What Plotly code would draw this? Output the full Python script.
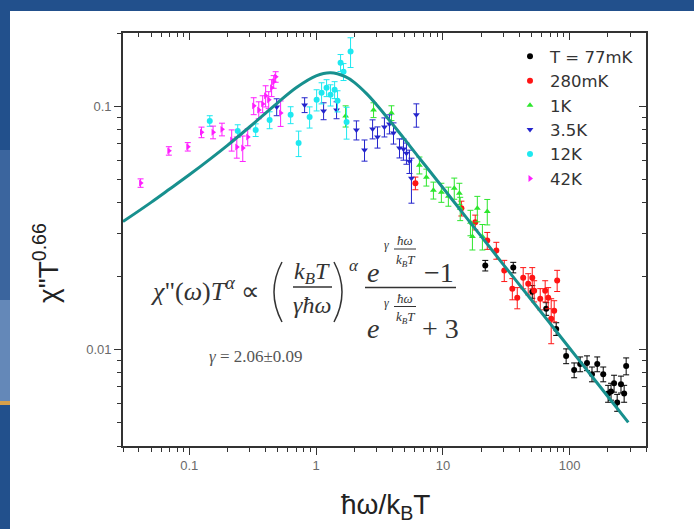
import math
import plotly.graph_objects as go

# ---------------- data ----------------
black_x = [21.6, 35.9, 50.7, 65.3, 78.3, 93.8, 108.5, 121, 137, 150, 165, 184, 201, 212, 224, 237, 254, 269, 279]
black_y = [0.0221, 0.0217, 0.01724, 0.01467, 0.01213, 0.00938, 0.00821, 0.00869, 0.00878, 0.0079,
           0.00869, 0.0079, 0.00658, 0.00671, 0.00724, 0.00604, 0.00718, 0.00658, 0.00853]
black_err = [0.05, 0.05, 0.06, 0.06, 0.06, 0.07, 0.07, 0.07, 0.07, 0.07, 0.07, 0.07, 0.08, 0.08, 0.08, 0.08, 0.08, 0.08, 0.08]

red_x = [6.07, 14.0, 18.0, 22.4, 26.4, 30.5, 35.3, 38.6, 43.0, 47.1, 50.7, 52.5, 58.6, 64.1, 67.7, 71.5, 75.5, 79.7]
red_y = [0.0482, 0.0380, 0.0333, 0.0280, 0.0255, 0.0211, 0.01775, 0.0163, 0.0197, 0.0186, 0.0197, 0.0174,
         0.01614, 0.0174, 0.0163, 0.01334, 0.0144, 0.0192]
red_err = [0.06, 0.07, 0.07, 0.08, 0.08, 0.10, 0.10, 0.10, 0.10, 0.10, 0.10, 0.10, 0.10, 0.10, 0.10, 0.21, 0.10, 0.10]

green_x = [1.71, 2.84, 3.93, 6.53, 7.41, 8.42, 9.73, 11.05, 12.3, 13.5, 13.7, 16.5, 18.7, 22.4, 17.1, 20.5]
green_y = [0.0912, 0.0965, 0.0938, 0.0572, 0.0510, 0.0451, 0.0442, 0.0426, 0.0460, 0.0438, 0.0380, 0.0333,
           0.0380, 0.0369, 0.0291, 0.0291]
green_err = [0.10, 0.07, 0.07, 0.08, 0.08, 0.08, 0.09, 0.09, 0.10, 0.10, 0.11, 0.12, 0.12, 0.12, 0.12, 0.12]

blue_x = [0.489, 0.812, 1.146, 1.45, 2.08, 2.41, 2.79, 3.05, 3.46, 3.79, 4.08, 4.55, 4.89, 5.16, 5.45, 5.65, 6.18]
blue_y = [0.0993, 0.1012, 0.0956, 0.0965, 0.0798, 0.066, 0.0806, 0.0747, 0.0821, 0.0845, 0.0776, 0.0673,
          0.0666, 0.0641, 0.0594, 0.0505, 0.0921]
blue_err = [0.08, 0.07, 0.08, 0.08, 0.09, 0.10, 0.09, 0.10, 0.09, 0.09, 0.10, 0.09, 0.10, 0.10, 0.11, 0.21, 0.11]

cyan_x = [0.145, 0.241, 0.334, 0.430, 0.630, 0.728, 0.889, 1.01, 1.105, 1.21, 1.30, 1.40, 1.476, 1.56, 1.646, 1.87, 1.74]
cyan_y = [0.0870, 0.0791, 0.0798, 0.0878, 0.0921, 0.0705, 0.0903, 0.1062, 0.1135, 0.119, 0.1113, 0.1168,
          0.1052, 0.151, 0.1386, 0.1677, 0.0861]
cyan_err = [0.05, 0.06, 0.06, 0.08, 0.08, 0.12, 0.10, 0.10, 0.10, 0.08, 0.10, 0.08, 0.10, 0.08, 0.08, 0.14, 0.15]

magenta_x = [0.0413, 0.069, 0.0973, 0.1248, 0.154, 0.181, 0.216, 0.237, 0.264, 0.289, 0.322, 0.353, 0.379,
             0.400, 0.423, 0.446, 0.463, 0.480, 0.525]
magenta_y = [0.0483, 0.0655, 0.0681, 0.0781, 0.0781, 0.0803, 0.0726, 0.0679, 0.0673, 0.0747, 0.1003, 0.0965,
             0.1022, 0.1103, 0.1062, 0.119, 0.126, 0.132, 0.0938]
magenta_err = [0.04, 0.04, 0.04, 0.05, 0.06, 0.06, 0.10, 0.10, 0.12, 0.08, 0.08, 0.08, 0.08, 0.10, 0.08, 0.08, 0.06, 0.05, 0.12]

# fitted curve
fit_x = [0.03, 0.05, 0.07, 0.1, 0.15, 0.2, 0.3, 0.4, 0.5, 0.7, 1.0, 1.3, 1.7, 2.0, 2.5, 3, 4, 5, 7, 10,
         15, 20, 30, 50, 70, 100, 150, 200, 290]
fit_y = [0.0335, 0.0402, 0.0456, 0.0522, 0.0613, 0.0690, 0.0823, 0.0936, 0.1035, 0.1193, 0.1332, 0.1371,
         0.1322, 0.1253, 0.1126, 0.1014, 0.0845, 0.0730, 0.0584, 0.0462, 0.0353, 0.0292, 0.0223, 0.01595,
         0.01278, 0.0101, 0.00773, 0.00639, 0.0050]

series_names = ["T = 77mK", "280mK", "1K", "3.5K", "12K", "42K"]

x_major = [0.1, 1, 10, 100]
x_labels = ["0.1", "1", "10", "100"]
y_major = [0.01, 0.1]
y_labels = ["0.01", "0.1"]
x_range = [0.03, 400]
y_range = [0.004, 0.2]

x_minor = [m * 10 ** d for d in range(-2, 3) for m in range(2, 10) if 0.03 <= m * 10 ** d <= 400]
y_minor = [m * 10 ** d for d in range(-3, 0) for m in range(2, 10) if 0.004 <= m * 10 ** d <= 0.2]

# ---------------- figure ----------------
W, H = 694, 529
L, R, T, B = 123, 48, 33, 83
PW, PH = W - L - R, H - T - B


def px(x):
    return (x - L) / PW


def py(y):
    return (H - B - y) / PH


styles = [
    ("#000000", "circle"),
    ("#ff1414", "circle"),
    ("#2ee62e", "triangle-up"),
    ("#2424cc", "triangle-down"),
    ("#1ee8f0", "circle"),
    ("#ff1eff", "triangle-right"),
]
data = [
    (black_x, black_y, black_err),
    (red_x, red_y, red_err),
    (green_x, green_y, green_err),
    (blue_x, blue_y, blue_err),
    (cyan_x, cyan_y, cyan_err),
    (magenta_x, magenta_y, magenta_err),
]

fig = go.Figure()
for name, (xs, ys, es), (col, sym) in zip(series_names, data, styles):
    fig.add_trace(go.Scatter(
        x=xs, y=ys, mode="markers", name=name,
        marker=dict(color=col, symbol=sym, size=6, line=dict(width=0)),
        error_y=dict(type="data", array=[y * e for y, e in zip(ys, es)], color=col, thickness=1, width=3),
    ))

fig.add_trace(go.Scatter(
    x=fit_x, y=fit_y, mode="lines", xaxis="x2", yaxis="y2", showlegend=False,
    line=dict(color="#17908e", width=3, shape="spline"),
))

xr = [math.log10(v) for v in x_range]
yr = [math.log10(v) for v in y_range]
axcol = "#333333"
tickfont = dict(family="Arial", size=13, color="#6a6a6a")

common = dict(type="log", showgrid=False, zeroline=False, showline=True, linecolor=axcol, linewidth=1.6,
              tickcolor=axcol, tickwidth=1.4)

fig.update_layout(
    width=W, height=H,
    margin=dict(l=L, r=R, t=T, b=B),
    paper_bgcolor="#22508c",
    plot_bgcolor="white",
    showlegend=True,
    xaxis=dict(**common, range=xr, tickvals=x_major, ticktext=x_labels, ticks="outside", ticklen=7,
               tickfont=tickfont,
               minor=dict(tickvals=x_minor, ticks="outside", ticklen=4, tickwidth=1.2, tickcolor=axcol)),
    yaxis=dict(**common, range=yr, tickvals=y_major, ticktext=y_labels, ticks="outside", ticklen=7,
               tickfont=tickfont,
               minor=dict(tickvals=y_minor, ticks="outside", ticklen=4, tickwidth=1.2, tickcolor=axcol)),
    xaxis2=dict(**common, range=xr, overlaying="x", side="top", anchor="y2", tickvals=x_major,
                ticks="inside", ticklen=7, showticklabels=False,
                minor=dict(tickvals=x_minor, ticks="inside", ticklen=4, tickwidth=1.2, tickcolor=axcol)),
    yaxis2=dict(**common, range=yr, overlaying="y", side="right", anchor="x2", tickvals=y_major,
                ticks="inside", ticklen=7, showticklabels=False,
                minor=dict(tickvals=y_minor, ticks="inside", ticklen=4, tickwidth=1.2, tickcolor=axcol)),
    legend=dict(x=px(510), y=py(39), xanchor="left", yanchor="top", bgcolor="rgba(0,0,0,0)",
                font=dict(family="DejaVu Sans", size=16.5, color="#333333"), itemwidth=30, tracegroupgap=0),
)

shapes = [
    # white slide area over the blue frame
    dict(type="rect", xref="paper", yref="paper", x0=px(10), x1=px(W + 5), y0=py(H + 5), y1=py(11),
         fillcolor="white", line=dict(width=0), layer="below"),
    # lighter glow on the left strip
    dict(type="rect", xref="paper", yref="paper", x0=px(-2), x1=px(10), y0=py(300), y1=py(150),
         fillcolor="#3b659e", line=dict(width=0), layer="below"),
    dict(type="rect", xref="paper", yref="paper", x0=px(-2), x1=px(10), y0=py(401), y1=py(300),
         fillcolor="#6488b8", line=dict(width=0), layer="below"),
    dict(type="rect", xref="paper", yref="paper", x0=px(-2), x1=px(10), y0=py(405), y1=py(401),
         fillcolor="#d7a04a", line=dict(width=0), layer="below"),
]

serif = "Liberation Serif, Times New Roman, serif"
fcol = "#333333"


def line_shape(x0, x1, y, w=1.3):
    return dict(type="line", xref="paper", yref="paper", x0=px(x0), x1=px(x1), y0=py(y), y1=py(y),
                line=dict(color=fcol, width=w))


def paren(xe, xc, y0, y1):
    ym = (y0 + y1) / 2
    return dict(type="path", xref="paper", yref="paper",
                path=f"M {px(xe)} {py(y0)} Q {px(xc)} {py(ym)} {px(xe)} {py(y1)}",
                line=dict(color=fcol, width=1.5))


shapes += [
    paren(282, 266, 262, 322),
    paren(334, 350, 262, 322),
    line_shape(293, 332, 287),
    line_shape(365, 456, 287.5),
    line_shape(394, 416, 249, 1),
    line_shape(394, 416, 306.5, 1),
]
fig.update_layout(shapes=shapes)

ann = []


def txt(s, x, y, size, xanchor="center", color=fcol, family=serif, angle=0):
    ann.append(dict(text=s, x=px(x), y=py(y), xref="paper", yref="paper", xanchor=xanchor, yanchor="middle",
                    showarrow=False, textangle=angle, font=dict(family=family, size=size, color=color)))


txt('<i>χ</i>"(<i>ω</i>)<i>T</i><sup><i>α</i></sup> ∝', 148, 289, 26, xanchor="left")
txt("<i>k</i><sub><i>B</i></sub><i>T</i>", 312, 273, 24)
txt("<i>γħω</i>", 312, 305, 24)
txt("<i>α</i>", 354, 265, 17)
# numerator of the second fraction
txt("<i>e</i>", 373, 272, 28)
txt("<i>γ</i>", 386, 245, 12)
txt("<i>ħω</i>", 405, 240, 13)
txt("<i>k</i><sub><i>B</i></sub><i>T</i>", 405, 260, 13)
txt("−1", 439, 272, 28)
# denominator
txt("<i>e</i>", 373, 329, 28)
txt("<i>γ</i>", 386, 303, 12)
txt("<i>ħω</i>", 405, 298, 13)
txt("<i>k</i><sub><i>B</i></sub><i>T</i>", 405, 317, 13)
txt("+ 3", 440, 329, 28)
txt("<i>γ</i> = 2.06±0.09", 256, 356, 17, color="#555555")

# axis titles
txt('χ"T<sup>0.66</sup>', 46, 263, 28, family="Arial", color="#222222", angle=-90)
txt("ħω/k<sub>B</sub>T", 385, 506, 28, family="Arial", color="#222222")

fig.update_layout(annotations=ann)

fig.write_html("out.html", config={"displayModeBar": False},
               post_script="document.body.style.margin='0';document.body.style.overflow='hidden';")
